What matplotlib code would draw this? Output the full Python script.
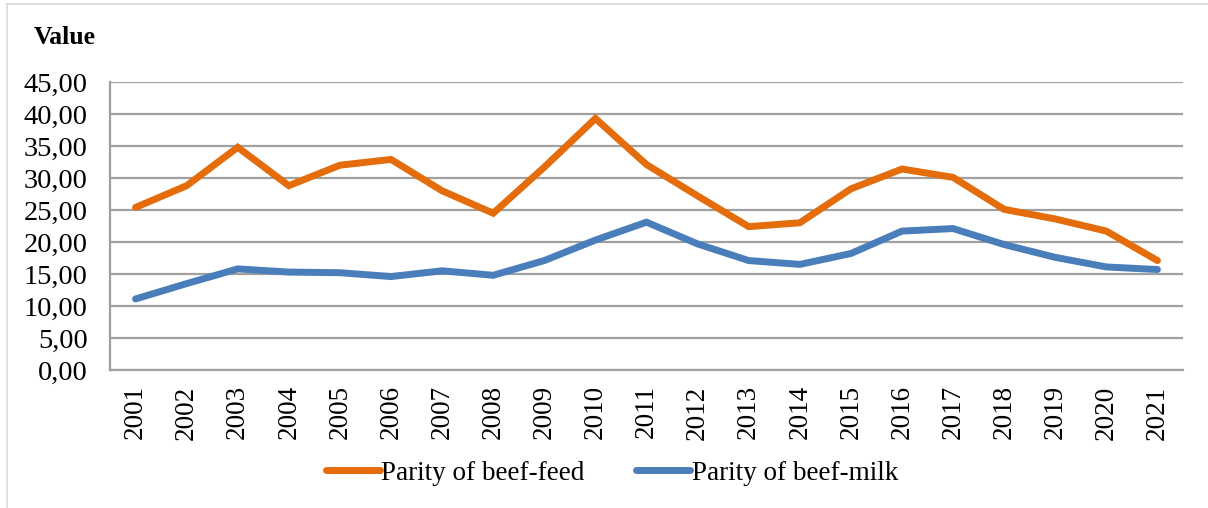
import numpy as np
import matplotlib.pyplot as plt
from matplotlib.lines import Line2D
from matplotlib.ticker import FuncFormatter

years = [str(y) for y in range(2001, 2022)]
beef_feed = [25.4, 28.8, 34.8, 28.8, 32.0, 32.9, 28.0, 24.5, 31.7, 39.3, 32.1,
             27.2, 22.4, 23.0, 28.3, 31.4, 30.1, 25.1, 23.6, 21.7, 17.1]
beef_milk = [11.1, 13.5, 15.8, 15.3, 15.2, 14.6, 15.5, 14.8, 17.1, 20.3, 23.1,
             19.7, 17.1, 16.5, 18.2, 21.7, 22.1, 19.6, 17.6, 16.1, 15.7]

plt.rcParams['font.family'] = ['Liberation Serif', 'DejaVu Serif']

W, H = 1208, 508
fig = plt.figure(figsize=(W / 100, H / 100), dpi=100)
ax = fig.add_axes([110 / W, 1 - 370 / H, (1183 - 110) / W, (370 - 82) / H])

x = np.arange(len(years))
ax.plot(x, beef_feed, color='#E46C0A', lw=5, solid_capstyle='round',
        solid_joinstyle='miter', label='Parity of beef-feed', zorder=3)
ax.plot(x, beef_milk, color='#4A7EBB', lw=5, solid_capstyle='round',
        solid_joinstyle='miter', label='Parity of beef-milk', zorder=3)

ax.set_xlim(-0.5, len(years) - 0.5)
ax.set_ylim(0, 45)
ax.set_yticks(np.arange(0, 46, 5))
ax.yaxis.set_major_formatter(FuncFormatter(lambda v, p: f'{v:.2f}'.replace('.', ',')))
ax.set_xticks(x)
ax.set_xticklabels(years, rotation=90)
ax.tick_params(axis='both', length=0, labelsize=19.5, colors='black')
ax.tick_params(axis='y', labelsize=20.5, pad=16)
ax.tick_params(axis='x', pad=11)

ax.grid(axis='y', color='#A0A0A0', lw=1.6, zorder=1)
ax.set_axisbelow(True)
for s in ['top', 'right']:
    ax.spines[s].set_visible(False)
ax.spines['left'].set_color('#A0A0A0')
ax.spines['left'].set_linewidth(1.6)
ax.spines['bottom'].set_color('#A0A0A0')
ax.spines['bottom'].set_linewidth(1.6)

fig.text(34 / W, 1 - 37 / H, 'Value', fontsize=18.5, fontweight='bold', va='center', ha='left')

leg = fig.legend(loc='center', bbox_to_anchor=(612 / W, 1 - 473 / H), ncol=2,
                 frameon=False, fontsize=19.5, handlelength=2.0, handletextpad=0.05,
                 columnspacing=1.9)

# light frame around the chart
fig.add_artist(Line2D([7 / W, 7 / W], [1 - 507 / H, 1 - 4 / H], color='#D9D9D9', lw=1.2))
fig.add_artist(Line2D([7 / W, 1.0], [1 - 4 / H, 1 - 4 / H], color='#D9D9D9', lw=1.2))

plt.savefig('out.png', dpi=100)
